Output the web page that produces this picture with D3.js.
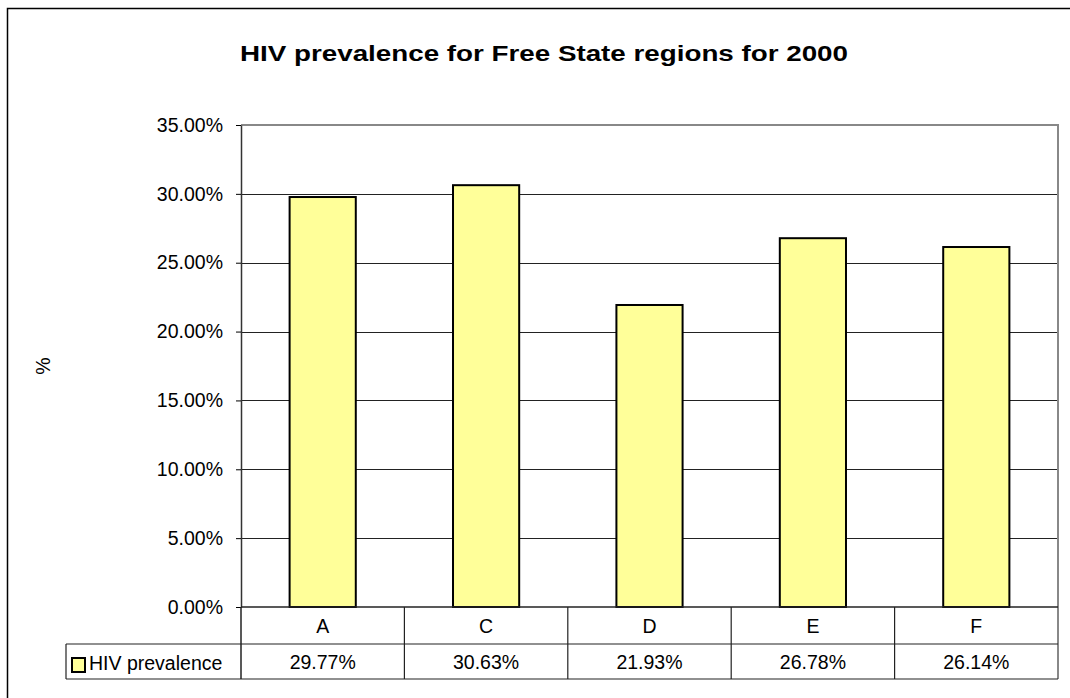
<!DOCTYPE html>
<html>
<head>
<meta charset="utf-8">
<script src="https://cdn.jsdelivr.net/npm/d3@7"></script>
<style>
  body { margin: 0; background: #fff; }
  svg { display: block; font-family: Arial, "Liberation Sans", sans-serif; }
</style>
</head>
<body>
<script>
// chart data
const categories = ["A", "C", "D", "E", "F"];
const prevalence = [0.2977, 0.3063, 0.2193, 0.2678, 0.2614];
const tableLabels = ["29.77%", "30.63%", "21.93%", "26.78%", "26.14%"];
const yTicks = [0, 0.05, 0.10, 0.15, 0.20, 0.25, 0.30, 0.35];
const seriesName = "HIV prevalence";

const width = 1070, height = 698;
const plot = { left: 241, right: 1058, top: 125, bottom: 607 };
const rowH = [37, 35];
const barFill = "#FFFF99";

const svg = d3.select("body").append("svg")
    .attr("width", width).attr("height", height);

// outer chart border (cut off on right / bottom like the reference)
svg.append("rect")
    .attr("x", 7.5).attr("y", 8.5)
    .attr("width", 1080).attr("height", 700)
    .attr("fill", "#fff").attr("stroke", "#000").attr("stroke-width", 1.5);

// title
svg.append("text")
    .attr("x", 240).attr("y", 61)
    .attr("textLength", 608).attr("lengthAdjust", "spacingAndGlyphs")
    .attr("font-size", 22.5).attr("font-weight", "bold")
    .text("HIV prevalence for Free State regions for 2000");

const y = d3.scaleLinear().domain([0, 0.35]).range([plot.bottom, plot.top]);
const x = d3.scaleBand().domain(categories)
    .range([plot.left, plot.right])
    .paddingInner(0.595).paddingOuter(0.2975);

// gridlines
svg.append("g")
    .selectAll("line")
    .data(yTicks.filter(t => t > 0 && t < 0.35))
    .join("line")
    .attr("x1", plot.left).attr("x2", plot.right)
    .attr("y1", d => Math.round(y(d)) + 0.5).attr("y2", d => Math.round(y(d)) + 0.5)
    .attr("stroke", "#222").attr("stroke-width", 1);

// plot frame top + right (gray)
svg.append("path")
    .attr("d", `M${plot.left},${plot.top} H${plot.right} V${plot.bottom + rowH[0] + rowH[1]}`)
    .attr("fill", "none").attr("stroke", "#888").attr("stroke-width", 2);

// bars
svg.append("g")
    .selectAll("rect")
    .data(categories.map((c, i) => ({ c, v: prevalence[i] })))
    .join("rect")
    .attr("x", d => x(d.c))
    .attr("y", d => y(d.v))
    .attr("width", x.bandwidth())
    .attr("height", d => y(0) - y(d.v))
    .attr("fill", barFill).attr("stroke", "#000").attr("stroke-width", 2);

// y axis
const yAxis = svg.append("g")
    .attr("transform", `translate(${plot.left},0)`)
    .call(d3.axisLeft(y).tickValues(yTicks).tickFormat(d3.format(".2%"))
        .tickSizeInner(5).tickSizeOuter(0).tickPadding(13));
yAxis.select(".domain").attr("stroke", "#333").attr("stroke-width", 1.5);
yAxis.selectAll(".tick line").attr("stroke", "#000");
yAxis.selectAll(".tick text")
    .attr("font-size", 19.5).attr("fill", "#000")
    .attr("font-family", "Arial, 'Liberation Sans', sans-serif");

// y axis title
svg.append("text")
    .attr("transform", `translate(50,${(plot.top + plot.bottom) / 2}) rotate(-90)`)
    .attr("text-anchor", "middle")
    .attr("font-size", 19.5)
    .text("%");

// data table
const tTop = plot.bottom, tMid = plot.bottom + rowH[0], tBot = tMid + rowH[1];
const table = svg.append("g").attr("stroke", "#222").attr("stroke-width", 1.2);
table.append("line").attr("x1", plot.left).attr("x2", plot.right).attr("y1", tTop).attr("y2", tTop)
    .attr("stroke-width", 1.5);
table.append("line").attr("x1", 66).attr("x2", plot.right).attr("y1", tMid).attr("y2", tMid);
table.append("line").attr("x1", 66).attr("x2", plot.right).attr("y1", tBot).attr("y2", tBot);
table.append("line").attr("x1", 66).attr("x2", 66).attr("y1", tMid).attr("y2", tBot);
table.selectAll(".vcol")
    .data(categories.slice(1))
    .join("line").attr("class", "vcol")
    .attr("x1", d => x(d) - x.step() * x.paddingInner() / 2)
    .attr("x2", d => x(d) - x.step() * x.paddingInner() / 2)
    .attr("y1", tTop).attr("y2", tBot);
table.append("line").attr("x1", plot.left).attr("x2", plot.left).attr("y1", tTop).attr("y2", tBot)
    .attr("stroke-width", 1.5);

svg.append("g").selectAll("text")
    .data(categories)
    .join("text")
    .attr("x", d => x(d) + x.bandwidth() / 2)
    .attr("y", tTop + 26)
    .attr("text-anchor", "middle").attr("font-size", 19.5)
    .text(d => d);

svg.append("g").selectAll("text")
    .data(categories.map((c, i) => ({ c, t: tableLabels[i] })))
    .join("text")
    .attr("x", d => x(d.c) + x.bandwidth() / 2)
    .attr("y", tMid + 25)
    .attr("text-anchor", "middle").attr("font-size", 19.5)
    .text(d => d.t);

// legend key in table
svg.append("rect")
    .attr("x", 72).attr("y", tMid + 14)
    .attr("width", 13).attr("height", 14)
    .attr("fill", barFill).attr("stroke", "#000").attr("stroke-width", 2);
svg.append("text")
    .attr("x", 89).attr("y", tMid + 26)
    .attr("font-size", 19.5)
    .text(seriesName);
</script>
</body>
</html>
